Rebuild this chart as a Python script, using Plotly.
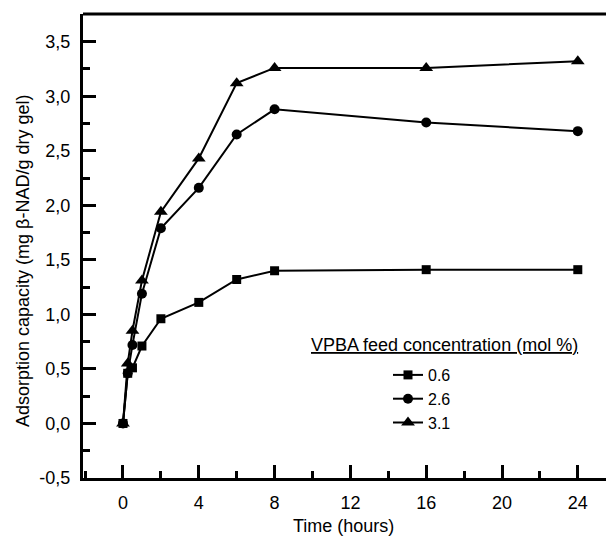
import plotly.graph_objects as go

# ---- data ----
time_h = [0, 0.25, 0.5, 1, 2, 4, 6, 8, 16, 24]
series_names = ["0.6", "2.6", "3.1"]
vals_06 = [0.0, 0.46, 0.51, 0.71, 0.96, 1.11, 1.32, 1.40, 1.41, 1.41]
vals_26 = [0.0, 0.46, 0.72, 1.19, 1.79, 2.16, 2.65, 2.88, 2.76, 2.68]
vals_31 = [0.0, 0.55, 0.85, 1.31, 1.94, 2.43, 3.12, 3.26, 3.26, 3.32]
symbols = ["square", "circle", "triangle-up"]
sizes = [9, 10, 12]

x_tickvals = [0, 4, 8, 12, 16, 20, 24]
x_ticktext = ["0", "4", "8", "12", "16", "20", "24"]
y_tickvals = [-0.5, 0.0, 0.5, 1.0, 1.5, 2.0, 2.5, 3.0, 3.5]
y_ticktext = ["-0,5", "0,0", "0,5", "1,0", "1,5", "2,0", "2,5", "3,0", "3,5"]

FONT = "Arial, Liberation Sans, Helvetica, sans-serif"
FS = 18

# page body has an 8px default margin; plot area in page px: left 83, top 14, bottom 478
OFF = 8
L, T, B = 83, 14, 478
W_PLOT = 614 - L
H_PLOT = B - T

fig = go.Figure()
for i, (name, vals) in enumerate(zip(series_names, [vals_06, vals_26, vals_31])):
    fig.add_trace(go.Scatter(
        x=time_h, y=vals, name=name, mode="lines+markers",
        line=dict(color="black", width=2),
        marker=dict(symbol=symbols[i], size=sizes[i], color="black"),
        legendgroup=name,
    ))

fig.update_layout(
    width=614 - OFF, height=545 - OFF,
    margin=dict(l=L - OFF, r=0, t=T - OFF, b=545 - B, pad=0),
    paper_bgcolor="white", plot_bgcolor="white",
    font=dict(family=FONT, size=FS, color="black"),
    showlegend=True,
    legend=dict(x=(388 - L) / W_PLOT, y=(B - 358) / H_PLOT, xanchor="left", yanchor="top",
                bgcolor="rgba(0,0,0,0)", tracegroupgap=0,
                font=dict(family=FONT, size=16)),
    xaxis=dict(range=[-2.11, 25.91], showline=True, linewidth=3, linecolor="black",
               ticks="inside", ticklen=13, tickwidth=2.5, tickcolor="black",
               tickvals=x_tickvals, ticktext=x_ticktext,
               minor=dict(ticks="inside", ticklen=7, tickwidth=2.5, tickcolor="black", dtick=2, tick0=0),
               showgrid=False, zeroline=False, ticklabelstandoff=6),
    yaxis=dict(range=[-0.5, 3.754], showline=True, linewidth=3, linecolor="black",
               ticks="inside", ticklen=13, tickwidth=2.5, tickcolor="black",
               tickvals=y_tickvals, ticktext=y_ticktext,
               minor=dict(ticks="inside", ticklen=7, tickwidth=2.5, tickcolor="black", dtick=0.25, tick0=0),
               showgrid=False, zeroline=False, ticklabelstandoff=6),
    shapes=[dict(type="line", xref="paper", yref="paper", x0=0, x1=1, y0=1, y1=1,
                 line=dict(color="black", width=3))],
    annotations=[
        dict(text="<u>VPBA feed concentration (mol %)</u>", xref="paper", yref="paper",
             x=(444 - L) / W_PLOT, y=(B - 345) / H_PLOT, xanchor="center", yanchor="middle",
             showarrow=False, font=dict(family=FONT, size=FS)),
        dict(text="Time (hours)", xref="paper", yref="paper",
             x=(343 - L) / W_PLOT, y=-(526 - B) / H_PLOT, xanchor="center", yanchor="middle",
             showarrow=False, font=dict(family=FONT, size=FS)),
        dict(text="Adsorption capacity (mg \u03b2-NAD/g dry gel)", xref="paper", yref="paper",
             x=-(L - 23) / W_PLOT, y=(B - 261) / H_PLOT, xanchor="center", yanchor="middle",
             textangle=-90, showarrow=False, font=dict(family=FONT, size=FS)),
    ],
)

fig.write_html("out.html")
